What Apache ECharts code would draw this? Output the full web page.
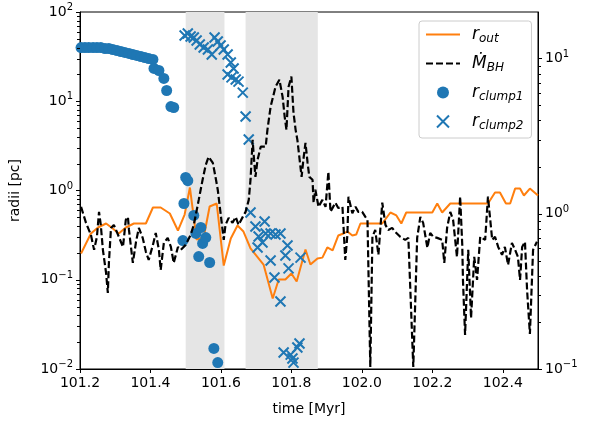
<!DOCTYPE html>
<html>
<head>
<meta charset="utf-8">
<script src="https://cdn.jsdelivr.net/npm/echarts@6/dist/echarts.min.js"></script>
<style>
  html, body { margin: 0; padding: 0; background: #fff; }
  #chart { width: 589px; height: 425px; }
</style>
</head>
<body>
<div id="chart"></div>
<script>
// outer radius (left axis, pc)
const routTime = [101.203, 101.231, 101.251, 101.274, 101.293, 101.310, 101.330, 101.353, 101.387, 101.407, 101.429, 101.455, 101.478, 101.497, 101.512, 101.531, 101.551, 101.568, 101.588, 101.608, 101.628, 101.647, 101.664, 101.684, 101.721, 101.747, 101.764, 101.783, 101.800, 101.815, 101.840, 101.854, 101.874, 101.888, 101.902, 101.917, 101.933, 101.948, 101.959, 101.973, 101.984, 101.996, 102.058, 102.081, 102.098, 102.112, 102.126, 102.200, 102.214, 102.228, 102.251, 102.358, 102.378, 102.392, 102.409, 102.421, 102.435, 102.449, 102.460, 102.477, 102.500];
const routVal = [0.197, 0.330, 0.385, 0.427, 0.375, 0.330, 0.385, 0.427, 0.427, 0.645, 0.645, 0.552, 0.356, 0.538, 1.08, 0.282, 0.297, 0.662, 0.715, 0.144, 0.290, 0.405, 0.347, 0.224, 0.148, 0.0617, 0.1006, 0.1006, 0.1175, 0.0956, 0.218, 0.148, 0.173, 0.177, 0.230, 0.213, 0.313, 0.330, 0.347, 0.313, 0.321, 0.427, 0.427, 0.567, 0.525, 0.427, 0.567, 0.567, 0.715, 0.567, 0.715, 0.715, 0.950, 0.950, 0.715, 0.715, 1.05, 1.05, 0.879, 1.05, 0.879];

// clump 1 radius (circles)
const clump1Time = [101.203, 101.214, 101.225, 101.237, 101.248, 101.259, 101.271, 101.282, 101.293, 101.305, 101.316, 101.327, 101.339, 101.350, 101.361, 101.373, 101.384, 101.395, 101.407, 101.410, 101.424, 101.438, 101.446, 101.458, 101.466, 101.492, 101.495, 101.500, 101.506, 101.523, 101.529, 101.537, 101.543, 101.548, 101.557, 101.568, 101.580, 101.591];
const clump1Val = [40.0, 40.0, 40.0, 40.0, 40.0, 40.0, 39.0, 39.0, 38.0, 37.0, 36.1, 35.2, 34.3, 33.4, 32.6, 31.7, 30.9, 30.1, 29.4, 23.3, 22.1, 18.0, 13.2, 8.73, 8.51, 0.275, 0.715, 1.40, 1.29, 0.525, 0.330, 0.182, 0.385, 0.255, 0.297, 0.156, 0.0170, 0.0118];

// clump 2 radius (crosses)
const clump2Time = [101.497, 101.506, 101.514, 101.523, 101.531, 101.540, 101.551, 101.563, 101.574, 101.582, 101.591, 101.599, 101.608, 101.619, 101.628, 101.636, 101.619, 101.630, 101.642, 101.650, 101.662, 101.670, 101.679, 101.684, 101.698, 101.724, 101.707, 101.727, 101.741, 101.755, 101.769, 101.718, 101.704, 101.789, 101.783, 101.741, 101.752, 101.792, 101.826, 101.769, 101.778, 101.798, 101.806, 101.817, 101.823, 101.803];
const clump2Val = [54.5, 57.4, 53.1, 51.8, 48.0, 43.2, 40.0, 38.0, 33.4, 51.8, 46.7, 42.1, 38.0, 33.4, 27.2, 23.3, 19.9, 18.5, 17.5, 16.6, 12.5, 6.75, 3.73, 0.567, 0.395, 0.450, 0.305, 0.330, 0.330, 0.321, 0.330, 0.261, 0.230, 0.242, 0.187, 0.164, 0.106, 0.134, 0.177, 0.0570, 0.0153, 0.0145, 0.0118, 0.0174, 0.0193, 0.0131];

// BH accretion rate (right axis)
const mdotTime = [101.203, 101.217, 101.231, 101.240, 101.248, 101.254, 101.259, 101.265, 101.274, 101.279, 101.282, 101.288, 101.296, 101.308, 101.322, 101.330, 101.336, 101.339, 101.350, 101.359, 101.367, 101.378, 101.387, 101.395, 101.407, 101.415, 101.424, 101.429, 101.438, 101.449, 101.458, 101.466, 101.478, 101.486, 101.500, 101.514, 101.523, 101.537, 101.548, 101.557, 101.565, 101.577, 101.585, 101.591, 101.599, 101.608, 101.613, 101.622, 101.633, 101.642, 101.650, 101.662, 101.670, 101.679, 101.684, 101.690, 101.693, 101.698, 101.704, 101.713, 101.727, 101.732, 101.741, 101.755, 101.766, 101.775, 101.781, 101.786, 101.792, 101.800, 101.806, 101.812, 101.817, 101.829, 101.834, 101.840, 101.846, 101.851, 101.860, 101.863, 101.868, 101.877, 101.888, 101.897, 101.905, 101.911, 101.925, 101.933, 101.945, 101.953, 101.959, 101.962, 101.973, 101.982, 101.990, 102.001, 102.010, 102.016, 102.024, 102.030, 102.038, 102.047, 102.058, 102.067, 102.075, 102.086, 102.095, 102.109, 102.123, 102.132, 102.146, 102.157, 102.166, 102.174, 102.186, 102.194, 102.203, 102.214, 102.228, 102.234, 102.242, 102.251, 102.259, 102.270, 102.279, 102.285, 102.287, 102.293, 102.302, 102.310, 102.319, 102.327, 102.336, 102.350, 102.358, 102.370, 102.378, 102.387, 102.398, 102.406, 102.415, 102.426, 102.435, 102.443, 102.449, 102.455, 102.463, 102.469, 102.477, 102.486, 102.497];
const mdotVal = [1.11, 0.875, 0.732, 0.586, 0.711, 1.03, 0.849, 0.586, 0.416, 0.309, 0.483, 0.812, 0.849, 0.732, 0.612, 0.915, 0.956, 0.788, 0.483, 0.660, 0.812, 0.700, 0.569, 0.505, 0.631, 0.754, 0.586, 0.435, 0.650, 0.700, 0.612, 0.483, 0.612, 0.586, 0.631, 0.732, 0.849, 1.23, 1.66, 2.07, 2.33, 2.13, 1.71, 1.43, 1.01, 0.680, 0.849, 0.942, 0.875, 0.956, 0.849, 0.956, 1.03, 1.23, 1.66, 3.00, 2.40, 1.73, 2.23, 2.71, 2.71, 3.48, 4.90, 6.59, 7.32, 5.69, 4.22, 3.48, 6.59, 7.66, 4.48, 3.48, 3.00, 1.73, 2.23, 2.87, 2.13, 1.73, 1.66, 1.18, 1.43, 1.11, 1.23, 1.11, 1.87, 1.03, 1.18, 1.09, 1.11, 0.505, 0.732, 1.29, 1.01, 1.11, 1.03, 1.03, 0.956, 0.915, 0.103, 0.711, 0.788, 0.544, 1.18, 0.849, 0.788, 0.812, 0.765, 0.711, 0.680, 0.700, 0.103, 0.700, 0.956, 0.875, 0.604, 0.754, 0.711, 0.700, 0.680, 0.483, 0.812, 1.03, 0.915, 0.528, 1.29, 0.631, 0.375, 0.166, 0.586, 0.213, 0.528, 0.375, 0.711, 0.680, 1.29, 0.680, 0.711, 0.612, 0.544, 0.612, 0.469, 0.650, 0.586, 0.528, 0.375, 0.612, 0.660, 0.323, 0.168, 0.586, 0.660];

// shaded time intervals
const spans = [[101.5, 101.61], [101.67, 101.875]];

const xMin = 101.2, xMax = 102.5;
const xTicks = [101.2, 101.4, 101.6, 101.8, 102.0, 102.2, 102.4];
const leftTicks = [0.01, 0.1, 1, 10, 100];
const rightTicks = [0.1, 1, 10];

function minorTicks(decades, max) {
  const out = [];
  decades.forEach(d => {
    for (let k = 2; k <= 9; k++) {
      if (k * d < max) out.push(+(k * d).toPrecision(3));
    }
  });
  return out;
}
const leftMinor = minorTicks([0.01, 0.1, 1, 10], 100);
const rightMinor = minorTicks([0.1, 1, 10], 20);

const FONT = 'DejaVu Sans';

function zip(a, b) {
  return a.map((v, i) => [v, b[i]]);
}

function powLabel(v) {
  const e = Math.round(Math.log10(v));
  const s = e < 0 ? '\u2212' + (-e) : String(e);
  return '{b|10}{sup|' + s + '}';
}

const powRich = {
  b: { fontSize: 14, fontFamily: FONT, color: '#000' },
  sup: { fontSize: 10, fontFamily: FONT, color: '#000', padding: [0, 0, 9, 0] },
};

const legendLabels = {
  'r_out': '{i|r}{s|out}',
  'mdot': '{i|M\u0307}{s|BH}',
  'clump1': '{i|r}{s|clump1}',
  'clump2': '{i|r}{s|clump2}',
};

const chart = echarts.init(document.getElementById('chart'));

function logAxis(pos, min, max, ticks) {
  return {
    type: 'log',
    position: pos,
    min: min,
    max: max,
    logBase: 10,
    axisLine: { show: true, lineStyle: { color: '#000', width: 1 } },
    axisTick: { show: true, inside: false, length: 4, customValues: ticks, lineStyle: { color: '#000', width: 1 } },
    axisLabel: {
      show: true,
      customValues: ticks,
      margin: 7,
      formatter: powLabel,
      rich: powRich,
    },
    splitLine: { show: false },
  };
}

const leftAxis = logAxis('left', 0.01, 100, leftTicks);
leftAxis.name = 'radii [pc]';
leftAxis.nameLocation = 'middle';
leftAxis.nameGap = 58;
leftAxis.nameTextStyle = { fontSize: 14, fontFamily: FONT, color: '#000' };

chart.setOption({
  animation: false,
  backgroundColor: '#fff',
  textStyle: { fontFamily: FONT },
  grid: {
    left: 79, right: 51, top: 12, bottom: 56,
    show: true, borderColor: '#000', borderWidth: 1, backgroundColor: 'transparent',
  },
  xAxis: {
    type: 'value',
    min: xMin,
    max: xMax,
    interval: 0.2,
    name: 'time [Myr]',
    nameLocation: 'middle',
    nameGap: 33,
    nameTextStyle: { fontSize: 14, fontFamily: FONT, color: '#000' },
    axisLine: { show: true, onZero: false, lineStyle: { color: '#000', width: 1 } },
    axisTick: { show: true, length: 4, customValues: xTicks, lineStyle: { color: '#000', width: 1 } },
    axisLabel: {
      customValues: xTicks,
      margin: 7,
      fontSize: 14,
      fontFamily: FONT,
      color: '#000',
      formatter: v => v.toFixed(1),
    },
    splitLine: { show: false },
  },
  yAxis: [
    leftAxis,
    logAxis('right', 0.1, 20, rightTicks),
  ],
  legend: {
    orient: 'vertical',
    left: 419,
    top: 21,
    padding: [5, 8, 6, 6],
    itemWidth: 34,
    itemHeight: 12,
    itemGap: 10,
    backgroundColor: 'rgba(255,255,255,0.8)',
    borderColor: '#cccccc',
    borderWidth: 1,
    borderRadius: 3,
    data: [
      { name: 'r_out', itemStyle: { opacity: 0 } },
      { name: 'mdot', itemStyle: { opacity: 0 } },
      { name: 'clump1', icon: 'circle' },
      { name: 'clump2', itemStyle: { color: 'rgba(0,0,0,0)', borderColor: '#1f77b4', borderWidth: 2 } },
    ],
    formatter: name => legendLabels[name],
    textStyle: {
      color: '#000',
      rich: {
        i: { fontSize: 17, fontStyle: 'italic', fontFamily: FONT, color: '#000', padding: [0, 0, 0, 7] },
        s: { fontSize: 12, fontStyle: 'italic', fontFamily: FONT, color: '#000', padding: [9, 0, 0, 0] },
      },
    },
  },
  series: [
    {
      name: 'spans',
      type: 'line',
      data: [],
      xAxisIndex: 0,
      yAxisIndex: 0,
      markArea: {
        silent: true,
        itemStyle: { color: '#e5e5e5' },
        data: spans.map(s => [{ xAxis: s[0] }, { xAxis: s[1] }]),
      },
    },
    {
      name: 'r_out',
      type: 'line',
      yAxisIndex: 0,
      data: zip(routTime, routVal),
      symbol: 'none',
      lineStyle: { color: '#ff7f0e', width: 2 },
      itemStyle: { color: '#ff7f0e' },
      z: 3,
    },
    {
      name: 'clump1',
      type: 'scatter',
      yAxisIndex: 0,
      data: zip(clump1Time, clump1Val),
      symbol: 'circle',
      symbolSize: 11,
      itemStyle: { color: '#1f77b4', opacity: 1 },
      z: 4,
    },
    {
      name: 'clump2',
      type: 'scatter',
      yAxisIndex: 0,
      data: zip(clump2Time, clump2Val),
      symbol: 'path://M0,0L10,10M10,0L0,10',
      symbolSize: 10,
      itemStyle: { color: 'rgba(0,0,0,0)', borderColor: '#1f77b4', borderWidth: 2, opacity: 1 },
      z: 5,
    },
    {
      name: 'mdot',
      type: 'line',
      yAxisIndex: 1,
      data: zip(mdotTime, mdotVal),
      symbol: 'none',
      lineStyle: { color: '#000', width: 2.2, type: [7, 3] },
      itemStyle: { color: '#000' },
      z: 6,
    },
  ],
});

// minor ticks of the two log axes, positioned with the axes' own scales
const minorLines = [];
function addMinor(yIndex, values, xVal, dir) {
  const x = chart.convertToPixel({ xAxisIndex: 0 }, xVal);
  values.forEach(v => {
    const y = Math.round(chart.convertToPixel({ yAxisIndex: yIndex }, v)) + 0.5;
    minorLines.push({
      type: 'line',
      silent: true,
      z: 20,
      shape: { x1: x, y1: y, x2: x + dir * 3, y2: y },
      style: { stroke: '#000', lineWidth: 1 },
    });
  });
}
addMinor(0, leftMinor, xMin, -1);
addMinor(1, rightMinor, xMax, 1);
chart.setOption({ graphic: minorLines });
</script>
</body>
</html>
